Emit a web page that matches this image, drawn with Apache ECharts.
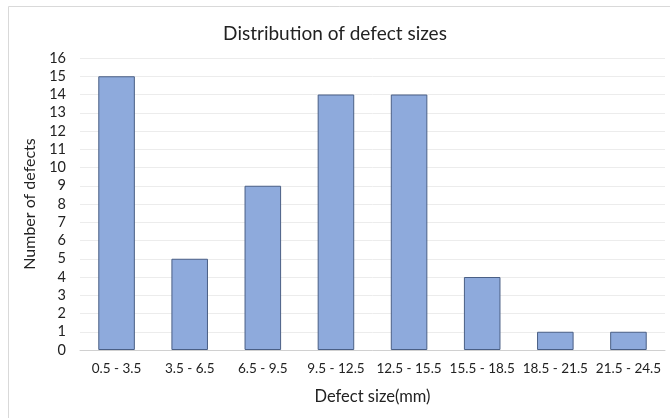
<!DOCTYPE html>
<html><head><meta charset="utf-8">
<script src="https://cdn.jsdelivr.net/npm/echarts@6/dist/echarts.min.js"></script>
<style>html,body{margin:0;padding:0;background:#fff}#c{width:670px;height:418px}</style>
</head><body><div id="c"></div>
<script>
const categories = ['0.5 - 3.5','3.5 - 6.5','6.5 - 9.5','9.5 - 12.5','12.5 - 15.5','15.5 - 18.5','18.5 - 21.5','21.5 - 24.5'];
const counts = [15, 5, 9, 14, 14, 4, 1, 1];
const yTicks = {min: 0, max: 16, interval: 1};
const F = 'Lato, "Open Sans", sans-serif';
const chart = echarts.init(document.getElementById('c'), null, {renderer:'canvas'});
chart.setOption({
  animation:false,
  backgroundColor:'#fff',
  graphic:[{type:'rect',shape:{x:8.5,y:6.5,width:700,height:450},style:{fill:'none',stroke:'#d9d9d9',lineWidth:1},silent:true}],
  title:{text:'Distribution of defect sizes',left:'center',top:19,textStyle:{fontFamily:F,fontSize:19,fontWeight:'normal',color:'#222'}},
  grid:{left:80,right:5,top:58,bottom:68,containLabel:false},
  xAxis:{type:'category',data:categories,
    name:'Defect size(mm)',nameLocation:'middle',nameGap:38,
    nameTextStyle:{fontFamily:F,fontSize:16.5,color:'#222'},
    axisLine:{lineStyle:{color:'#d0d0d0'}},axisTick:{show:false},
    axisLabel:{fontFamily:F,fontSize:13.5,color:'#222',margin:12,interval:0}},
  yAxis:{type:'value',min:yTicks.min,max:yTicks.max,interval:yTicks.interval,
    name:'Number of defects',nameLocation:'middle',nameGap:25,
    nameTextStyle:{fontFamily:F,fontSize:16,color:'#222'},
    axisLine:{show:false},axisTick:{show:false},
    axisLabel:{fontFamily:F,fontSize:14.5,color:'#222',margin:14},
    splitLine:{lineStyle:{color:'#ececec'}}},
  series:[{type:'bar',data:counts,barWidth:'50%',
    itemStyle:{color:'#8eaadc',borderColor:'#4a5f85',borderWidth:1}}]
});
</script></body></html>
